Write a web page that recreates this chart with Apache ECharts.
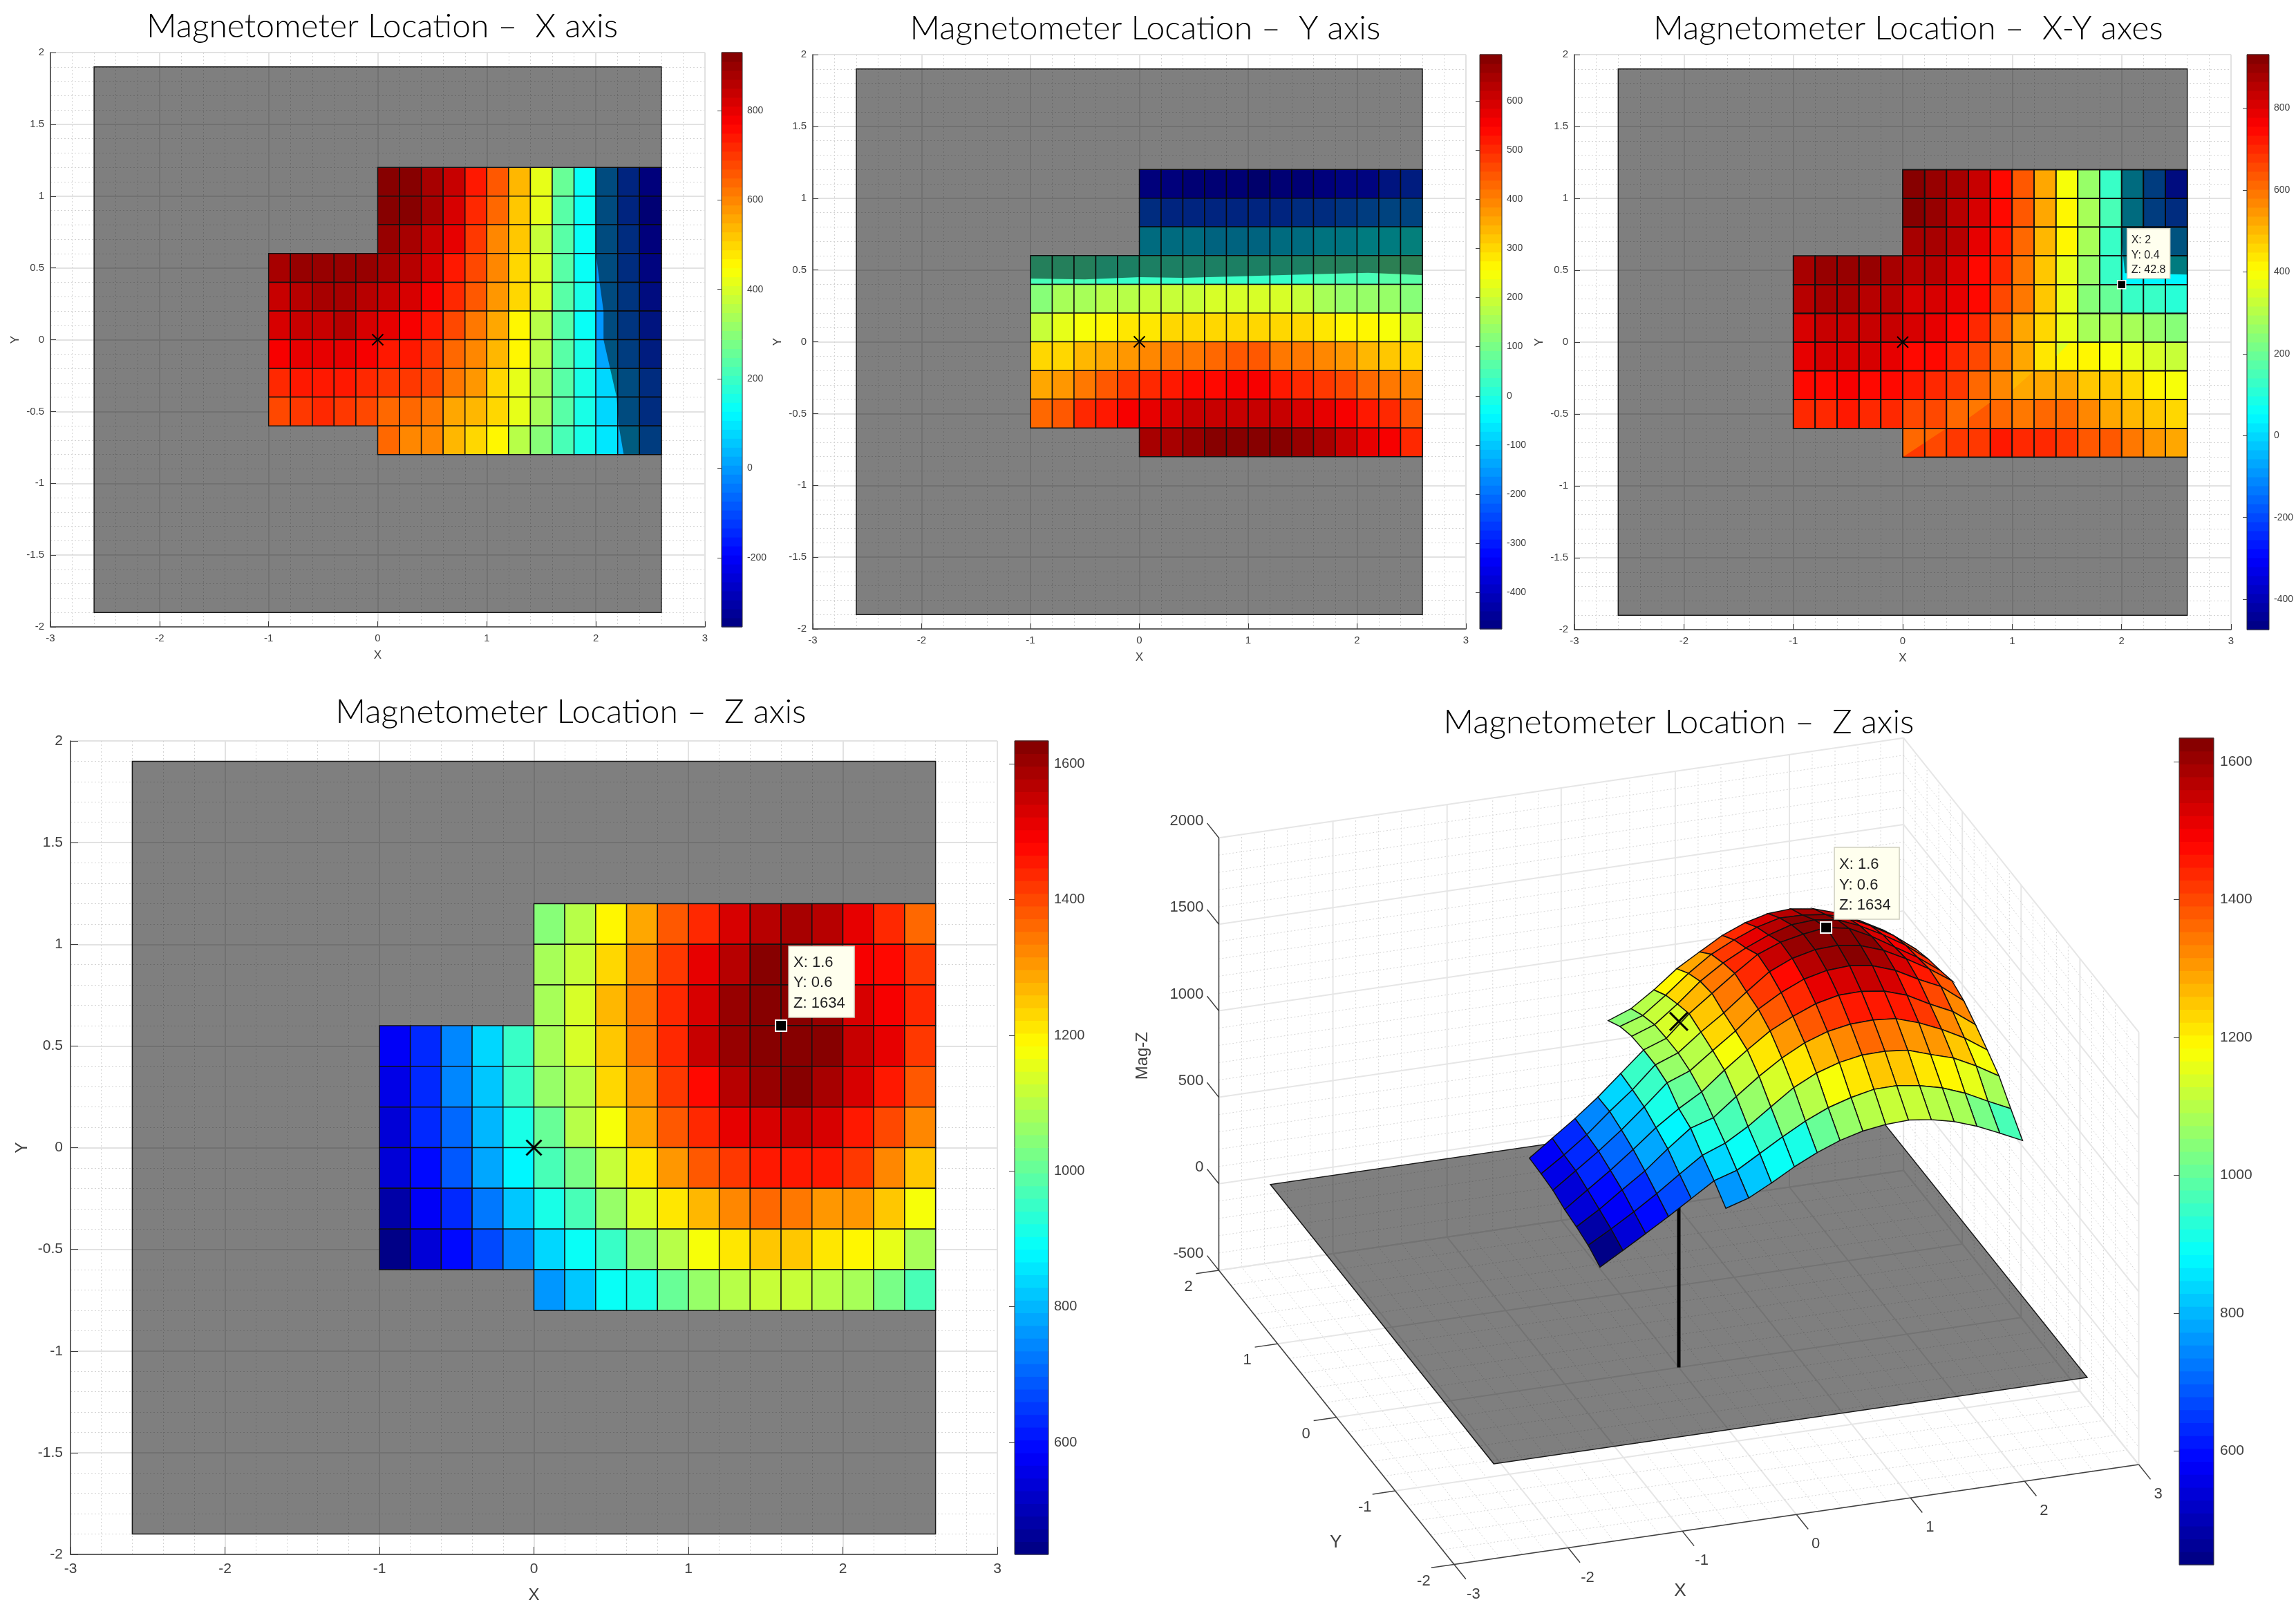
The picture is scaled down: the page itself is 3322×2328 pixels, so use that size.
<!DOCTYPE html>
<html><head><meta charset="utf-8"><style>html,body{margin:0;padding:0;background:#fff}#c{width:3322px;height:2328px}</style>
<script src="https://cdn.jsdelivr.net/npm/echarts@6/dist/echarts.min.js"></script></head><body><div id="c"></div>
<script>
const _ = null;
const columnX = [-1,-0.8,-0.6,-0.4,-0.2,0,0.2,0.4,0.6,0.8,1.0,1.2,1.4,1.6,1.8,2.0,2.2,2.4];
const rowY = [1.0,0.8,0.6,0.4,0.2,0,-0.2,-0.4,-0.6,-0.8];
const magX = [
[_,_,_,_,_,930,915,880,835,730,650,545,415,255,127,-10,-110,-210],
[_,_,_,_,_,910,925,880,815,725,640,520,415,245,127,-5,-100,-215],
[_,_,_,_,_,890,875,835,800,700,600,520,380,240,135,-5,-90,-195],
[880,895,890,905,900,875,855,810,745,675,590,500,395,245,140,-5,-85,-185],
[835,860,875,870,855,835,810,770,720,650,570,500,390,245,160,0,-70,-160],
[810,835,835,850,815,795,770,745,685,620,550,465,365,245,140,0,-60,-150],
[770,790,790,805,770,735,730,705,645,595,530,450,365,240,160,10,-40,-120],
[720,740,745,740,720,700,690,670,610,575,500,425,345,240,165,85,-10,-90],
[680,705,710,705,685,645,630,620,565,530,490,415,330,240,165,80,-5,-75],
[_,_,_,_,_,630,600,590,545,500,450,365,305,220,165,100,40,-40]];
const magY = [
[_,_,_,_,_,-335,-345,-350,-355,-360,-365,-360,-355,-345,-325,-310,-290,-270],
[_,_,_,_,_,-230,-245,-245,-245,-250,-250,-245,-235,-225,-205,-190,-175,-170],
[_,_,_,_,_,-75,-85,-90,-95,-95,-95,-90,-85,-70,-60,-45,-40,-35],
[55,45,40,35,30,30,25,20,20,20,25,30,35,45,55,55,60,70],
[115,150,150,165,180,195,200,200,205,205,210,205,185,160,140,140,130,120],
[195,220,240,256,275,285,295,300,305,305,305,300,295,285,270,256,240,210],
[295,310,340,355,370,390,405,420,435,440,440,420,405,390,370,345,320,305],
[350,375,415,440,475,495,515,530,540,548,548,525,510,490,465,430,410,385],
[430,455,495,525,550,575,595,610,615,620,615,605,590,575,550,520,495,450],
[_,_,_,_,_,655,645,660,680,690,694,685,665,640,610,575,548,505]];
const magXY = [
[_,_,_,_,_,931,905,885,830,740,645,535,404,270,140,5,-143,-270],
[_,_,_,_,_,915,905,860,805,735,625,515,410,280,145,0,-130,-170],
[_,_,_,_,_,885,880,850,790,715,610,510,410,280,130,-10,-60,-70],
[870,890,905,900,880,860,845,815,755,690,590,490,365,260,120,42.8,45,40],
[850,870,875,865,860,820,810,780,735,665,585,490,365,250,190,140,140,110],
[810,825,825,835,825,800,785,745,700,620,535,450,365,290,285,275,260,235],
[790,805,805,810,785,755,740,705,655,595,520,445,415,405,385,365,350,320],
[735,755,760,755,740,715,700,670,615,575,530,515,515,490,470,450,420,385],
[695,710,715,710,695,665,650,615,625,620,590,605,605,570,530,510,490,455],
[_,_,_,_,_,615,660,675,680,720,695,695,670,645,625,590,550,515]];
const magZ = [
[_,_,_,_,_,1040,1105,1195,1290,1380,1445,1540,1560,1590,1570,1505,1445,1370],
[_,_,_,_,_,1090,1125,1235,1330,1425,1515,1575,1620,1625,1565,1500,1475,1415],
[_,_,_,_,_,1080,1135,1260,1350,1440,1540,1600,1630,1634,1600,1535,1495,1435],
[570,640,745,830,950,1085,1140,1245,1345,1445,1545,1605,1630,1628,1620,1555,1505,1415],
[555,635,735,820,950,1070,1105,1225,1315,1425,1484,1560,1605,1620,1585,1540,1460,1390],
[545,625,710,800,915,1015,1095,1180,1280,1375,1440,1505,1530,1555,1530,1460,1400,1325],
[530,600,680,775,870,965,1020,1125,1215,1300,1380,1420,1450,1455,1455,1410,1330,1255],
[490,580,630,725,825,915,960,1060,1145,1210,1275,1330,1355,1345,1315,1300,1255,1184],
[450,530,590,675,745,830,885,950,1045,1105,1175,1215,1245,1245,1215,1200,1150,1090],
[_,_,_,_,_,770,810,885,920,1005,1065,1105,1125,1115,1105,1085,1025,965]];
// surface heights read from the 3-D view, nodes at nodeY (rows) and nodeX (columns)
const nodeX = [-1,-0.8,-0.6,-0.4,-0.2,0,0.2,0.4,0.6,0.8,1.0,1.2,1.4,1.6,1.8,2.0,2.2,2.4,2.6];
const nodeY = [1.2,1.0,0.8,0.6,0.4,0.2,0,-0.2,-0.4,-0.6,-0.8];
const surfaceZ = [
[_,_,_,_,_,995,1045,1134,1237,1315,1391,1445,1479,1487,1468,1426,1362,1290,1190],
[_,_,_,_,_,1046,1090,1188,1295,1386,1450,1504,1538,1536,1520,1480,1415,1340,1240],
[_,_,_,_,_,1074,1122,1222,1334,1421,1488,1544,1584,1593,1575,1520,1450,1370,1270],
[551,647,742,846,963,1080,1128,1251,1349,1446,1536,1587,1615,1634,1610,1544,1464,1385,1290],
[545,635,733,848,954,1079,1129,1230,1321,1424,1521,1579,1610,1616,1595,1549,1480,1403,1315],
[535,629,723,826,940,1060,1110,1208,1302,1409,1486,1544,1575,1583,1564,1518,1448,1386,1285],
[509,603,697,798,905,996,1073,1180,1277,1368,1433,1487,1517,1520,1502,1459,1389,1327,1231],
[494,575,669,759,868,968,1009,1112,1210,1296,1365,1411,1435,1440,1428,1385,1328,1259,1170],
[472,547,627,713,806,896,947,1024,1118,1210,1275,1317,1341,1344,1331,1287,1247,1182,1105],
[431,508,586,666,750,834,875,953,1030,1102,1160,1200,1228,1230,1211,1179,1129,1063,1001],
[_,_,_,_,_,760,800,868,942,1005,1056,1091,1110,1116,1099,1069,1023,964,902]];
const belowZeroX = [[2.0,1.2],[2.0,0.8],[2.0,0.6],[2.03,0.42],[2.07,0.2],[2.07,0],[2.13,-0.2],[2.19,-0.4],[2.21,-0.6],[2.255,-0.8],[2.6,-0.8],[2.6,1.2]];
const belowZeroY = [[-1,0.44],[-0.5,0.435],[0,0.45],[0.4,0.445],[1.1,0.46],[1.6,0.47],[2.1,0.48],[2.6,0.465],[2.6,1.2],[0,1.2],[0,0.6],[-1,0.6]];
const belowZeroXY = [[2.0,1.2],[2.0,0.7],[2.03,0.48],[2.6,0.47],[2.6,1.2]];
const foldValuesXY = [670,615,585,505,340];
const foldPolygonsXY = [
 [[0,-0.8],[0.2,-0.7],[0.2,-0.8]],
 [[0.2,-0.7],[0.4,-0.6],[0.2,-0.6]],
 [[0.6,-0.53],[0.8,-0.42],[0.8,-0.4],[0.6,-0.4]],
 [[1.0,-0.335],[1.2,-0.2],[1.0,-0.2]],
 [[1.4,-0.1],[1.53,0],[1.4,0]]];
const planeCorners = [[-2.6,-1.9],[2.6,-1.9],[2.6,1.9],[-2.6,1.9]];
const rangeX = [-355,930], rangeY = [-474,694], rangeXY = [-474,931], rangeZ = [435,1634];
const barTicksX = [-200,0,200,400,600,800];
const barTicksY = [-400,-300,-200,-100,0,100,200,300,400,500,600];
const barTicksXY = [-400,-200,0,200,400,600,800];
const barTicksZ = [600,800,1000,1200,1400,1600];
const ticks3dX = [-3,-2,-1,0,1,2,3], ticks3dY = [-2,-1,0,1,2], ticks3dZ = [-500,0,500,1000,1500,2000];
const cellStep = 0.2, barLevels = 64;
const FONT = '"Liberation Sans", Arial, sans-serif';
const TITLEFONT = 'Lato';

function jet(t){
  t = Math.max(0,Math.min(0.99999,t));
  t = (Math.floor(t*barLevels)+0.5)/barLevels;
  const f = c => Math.round(255*Math.max(0,Math.min(1,1.5-Math.abs(4*t-c))));
  return `rgb(${f(3)},${f(2)},${f(1)})`;
}
const grids=[],xAxes=[],yAxes=[],series=[],titles=[];
function addGrid(g,x,y){grids.push(g);x.gridIndex=y.gridIndex=grids.length-1;xAxes.push(x);yAxes.push(y);return grids.length-1;}
function draw(gi,fn,extra){series.push(Object.assign({type:'custom',xAxisIndex:gi,yAxisIndex:gi,clip:false,silent:true,animation:false,
  data:[[0,0]],encode:{x:0,y:1},renderItem:(p,api)=>fn(api)},extra||{}));}
function addTitle(text,x,y){titles.push({text,left:x,top:y,textAlign:'center',textVerticalAlign:'middle',
  textStyle:{fontFamily:TITLEFONT,fontWeight:300,fontSize:48,color:'#000'}});}
function poly(pts,api,style){return {type:'polygon',shape:{points:pts.map(p=>api.coord(p))},style};}
function xMark(c,s,w){return {type:'group',children:[
  {type:'line',shape:{x1:c[0]-s,y1:c[1]-s,x2:c[0]+s,y2:c[1]+s},style:{stroke:'#000',lineWidth:w}},
  {type:'line',shape:{x1:c[0]-s,y1:c[1]+s,x2:c[0]+s,y2:c[1]-s},style:{stroke:'#000',lineWidth:w}}]};}
function tip(c,t,lines){
  const kids=[{type:'rect',shape:{x:c[0]+t.dx,y:c[1]+t.dy,width:t.w,height:t.h},style:{fill:'#ffffee',stroke:'#d0d0c0',lineWidth:1.5}},
   {type:'rect',shape:{x:c[0]-t.mw/2,y:c[1]-t.mw/2,width:t.mw,height:t.mw},style:{fill:'#000',stroke:'#fff',lineWidth:t.ml}}];
  lines.forEach((s,i)=>kids.push({type:'text',x:c[0]+t.dx+t.tx,y:c[1]+t.dy+t.first+i*t.gap,
    style:{text:s,fill:'#222',font:`${t.fs}px ${FONT}`,align:'left',verticalAlign:'middle'}}));
  return {type:'group',children:kids};
}
function colorbar(box,range,ticks,fs,tick,margin){
  const gi=addGrid(Object.assign({},box),{type:'value',min:0,max:1,show:false},
   {type:'value',position:'right',min:range[0],max:range[1],
    axisLine:{show:false},splitLine:{show:false},
    axisTick:{show:true,inside:true,length:tick,customValues:ticks,lineStyle:{color:'#444',width:1}},
    axisLabel:{show:true,customValues:ticks,margin,fontFamily:FONT,fontSize:fs,color:'#404040',formatter:v=>String(v)}});
  const step=(range[1]-range[0])/barLevels, lv=[];
  for(let i=0;i<barLevels;i++) lv.push([0,range[0]+i*step]);
  series.push({type:'custom',xAxisIndex:gi,yAxisIndex:gi,clip:false,silent:true,animation:false,data:lv,encode:{x:0,y:1},
    renderItem:(p,api)=>{const v=api.value(1),a=api.coord([0,v]),b=api.coord([1,v+step]);
      return {type:'rect',shape:{x:a[0],y:b[1]-0.5,width:b[0]-a[0],height:a[1]-b[1]+1},style:{fill:jet((v+step/2-range[0])/(range[1]-range[0]))}};}});
  draw(gi,api=>{const a=api.coord([0,range[0]]),b=api.coord([1,range[1]]);
    return {type:'rect',shape:{x:a[0],y:b[1],width:b[0]-a[0],height:a[1]-b[1]},style:{fill:'none',stroke:'#333',lineWidth:1}};});
}
function panel(o){
  const axis=(min,max,interval,name,gap,rot)=>({type:'value',min,max,interval,minorTick:{show:false,splitNumber:5},name,nameLocation:'middle',nameGap:gap,nameRotate:rot,
    nameTextStyle:{fontFamily:FONT,fontSize:o.nameFs,color:'#404040'},
    axisLine:{show:true,onZero:false,lineStyle:{color:'#3a3a3a',width:1.5}},
    axisTick:{show:true,inside:true,length:o.tick,lineStyle:{color:'#3a3a3a',width:1}},
    axisLabel:{fontFamily:FONT,fontSize:o.fs,color:'#404040',margin:o.margin},
    splitLine:{show:true,showMinLine:true,showMaxLine:true,lineStyle:{color:'#e2e2e2',width:2}},
    minorSplitLine:{show:true,lineStyle:{color:'#d4d4d4',width:1,type:[2,3]}}});
  const gi=addGrid(o.box,Object.assign(axis(-3,3,1,'X',o.xGap,0),{position:'bottom'}),Object.assign(axis(-2,2,0.5,'Y',o.yGap,90),{position:'left'}));
  draw(gi,api=>poly(planeCorners,api,{fill:'rgba(0,0,0,0.5)',stroke:'#1a1a1a',lineWidth:1.5}));
  const cells=[];
  o.data.forEach((row,r)=>row.forEach((v,c)=>{if(v!==null)cells.push([columnX[c],rowY[r],v]);}));
  const color=v=>jet((v-o.range[0])/(o.range[1]-o.range[0]));
  series.push({type:'custom',xAxisIndex:gi,yAxisIndex:gi,clip:false,silent:true,animation:false,data:cells,encode:{x:0,y:1},
    renderItem:(p,api)=>{const x=api.value(0),y=api.value(1),v=api.value(2),a=api.coord([x,y]),b=api.coord([x+cellStep,y+cellStep]);
      return {type:'rect',shape:{x:a[0],y:b[1],width:b[0]-a[0],height:a[1]-b[1]},style:{fill:color(v),stroke:'#111',lineWidth:o.cellLw}};}});
  if(o.folds){
    draw(gi,api=>({type:'group',children:o.folds.map((f,i)=>poly(f,api,{fill:color(o.foldValues[i])}))}));
    series.push({type:'custom',xAxisIndex:gi,yAxisIndex:gi,clip:false,silent:true,animation:false,data:cells,encode:{x:0,y:1},
      renderItem:(p,api)=>{const x=api.value(0),y=api.value(1),a=api.coord([x,y]),b=api.coord([x+cellStep,y+cellStep]);
        return {type:'rect',shape:{x:a[0],y:b[1],width:b[0]-a[0],height:a[1]-b[1]},style:{fill:'none',stroke:'#111',lineWidth:o.cellLw}};}});
  }
  if(o.below) draw(gi,api=>poly(o.below,api,{fill:'rgba(0,0,0,0.5)'}));
  draw(gi,api=>xMark(api.coord([0,0]),o.xs,o.xw));
  if(o.tip) draw(gi,api=>tip(api.coord(o.tip.p),o.tip,o.tip.lines));
  colorbar(o.bar,o.range,o.barTicks,o.barFs,o.barTick,o.barMargin);
}
addTitle('Magnetometer Location –  X axis',548,34);
addTitle('Magnetometer Location –  Y axis',1652,37);
addTitle('Magnetometer Location –  X-Y axes',2756,37);
addTitle('Magnetometer Location –  Z axis',821,1026);
addTitle('Magnetometer Location –  Z axis',2424,1041);
const small={fs:15,nameFs:17,tick:8,margin:9,xGap:33,yGap:42,xs:8,xw:2,cellLw:1.5,barFs:14,barTick:6,barMargin:7};
panel(Object.assign({},small,{box:{left:73,top:76,width:947,height:831},data:magX,range:rangeX,below:belowZeroX,
  bar:{left:1044,top:76,width:30,height:831},barTicks:barTicksX}));
panel(Object.assign({},small,{box:{left:1176,top:79,width:945,height:831},data:magY,range:rangeY,below:belowZeroY,
  bar:{left:2141,top:79,width:32,height:831},barTicks:barTicksY}));
panel(Object.assign({},small,{box:{left:2278,top:79,width:950,height:832},data:magXY,range:rangeXY,below:belowZeroXY,
  folds:foldPolygonsXY,foldValues:foldValuesXY,
  bar:{left:3251,top:79,width:32,height:832},barTicks:barTicksXY,
  tip:{p:[2,0.4],lines:['X: 2','Y: 0.4','Z: 42.8'],dx:8,dy:-81,w:62,h:72,tx:6,first:17,gap:21.5,fs:16,mw:12,ml:1.5}}));
panel({box:{left:102,top:1072,width:1341,height:1177},fs:21,nameFs:24,tick:11,margin:11,xGap:47,yGap:58,xs:11,xw:3,cellLw:1.5,
  data:magZ,range:rangeZ,bar:{left:1468,top:1072,width:49,height:1177},barTicks:barTicksZ,barFs:20,barTick:8,barMargin:8,
  tip:{p:[1.6,0.6],lines:['X: 1.6','Y: 0.6','Z: 1634'],dx:11,dy:-115,w:95,h:103,tx:7,first:23.5,gap:29.5,fs:22,mw:16,ml:2}});

// ---- 3-D panel: orthographic view, hidden value axes carry the projected plane
const view={ox:729,oy:321.5,xu:165.1,yu:-85.1,xv:24.07,yv:106.4,zv:0.2503};
const proj=(x,y,z)=>[view.ox+view.xu*x+view.yu*y, view.oy+view.xv*x+view.yv*y+view.zv*(z+500)];
const g3=addGrid({left:1700,top:1060,width:1440,height:1240},{type:'value',min:0,max:1440,show:false},{type:'value',min:0,max:1240,show:false});
const seg=(api,a,b,style)=>{const p=api.coord(proj(a[0],a[1],a[2])),q=api.coord(proj(b[0],b[1],b[2]));
  return {type:'line',shape:{x1:p[0],y1:p[1],x2:q[0],y2:q[1]},style};};
function range(a,b,s){const r=[];const n=Math.round((b-a)/s);for(let i=0;i<=n;i++)r.push(a+i*s);return r;}
draw(g3,api=>{
  const minor={stroke:'#d6d6d6',lineWidth:1,lineDash:[2,3]},major={stroke:'#e6e6e6',lineWidth:2},kids=[];
  const isIn=(v,list)=>list.some(t=>Math.abs(t-v)<1e-6);
  const both=(vals,ticks,f)=>vals.forEach(v=>{if(!isIn(v,ticks))f(v,minor);});
  const add=(vals,ticks,f)=>{both(vals,ticks,f);ticks.forEach(v=>f(v,major));};
  const l=(a,b,s)=>kids.push(seg(api,a,b,s));
  add(range(-3,3,0.2),ticks3dX,(x,s)=>{l([x,-2,-500],[x,2,-500],s);l([x,2,-500],[x,2,2000],s);});
  add(range(-2,2,0.2),ticks3dY,(y,s)=>{l([-3,y,-500],[3,y,-500],s);l([3,y,-500],[3,y,2000],s);});
  add(range(-500,2000,100),ticks3dZ,(z,s)=>{l([-3,2,z],[3,2,z],s);l([3,2,z],[3,-2,z],s);});
  const ax={stroke:'#404040',lineWidth:1.5};
  l([-3,2,-500],[-3,2,2000],ax);l([-3,-2,-500],[3,-2,-500],ax);l([-3,-2,-500],[-3,2,-500],ax);
  ticks3dZ.forEach(z=>l([-3,2,z],[-3,2.2,z],ax));
  ticks3dX.forEach(x=>l([x,-2,-500],[x,-2.2,-500],ax));
  ticks3dY.forEach(y=>l([-3,y,-500],[-3.2,y,-500],ax));
  const txt=(c,dx,dy,text,fs,align,rot)=>kids.push({type:'text',x:c[0]+dx,y:c[1]+dy,rotation:rot||0,
    style:{text:String(text),fill:'#404040',font:`${fs}px ${FONT}`,align,verticalAlign:'middle'}});
  const at=(x,y,z)=>api.coord(proj(x,y,z));
  ticks3dZ.forEach(z=>txt(at(-3,2,z),-22,-24,z,22,'right'));
  ticks3dX.forEach(x=>txt(at(x,-2,-500),28,43,x,22,'center'));
  ticks3dY.forEach(y=>txt(at(-3,y,-500),-44,24,y,22,'center'));
  txt(at(-1.39,-2.72,-500),0,0,'X',26,'center');
  txt(at(-3.79,-1.52,-500),0,0,'Y',26,'center');
  txt(at(-3.67,2,804),0,0,'Mag-Z',24,'center',Math.PI/2);
  return {type:'group',children:kids};
});
draw(g3,api=>({type:'polygon',shape:{points:planeCorners.map(p=>api.coord(proj(p[0],p[1],0)))},style:{fill:'rgba(0,0,0,0.5)',stroke:'#1a1a1a',lineWidth:1.5}}));
draw(g3,api=>seg(api,[0,0,-500],[0,0,1500],{stroke:'#000',lineWidth:5}));
const surfaceCells=[];
magZ.forEach((row,r)=>row.forEach((v,c)=>{if(v!==null)surfaceCells.push([c,r,v]);}));
surfaceCells.sort((a,b)=>{const d=(o)=>view.xv*columnX[o[0]]+view.yv*rowY[o[1]];return d(b)-d(a);});
series.push({type:'custom',xAxisIndex:g3,yAxisIndex:g3,clip:false,silent:true,animation:false,data:surfaceCells,encode:{x:0,y:1},
  renderItem:(p,api)=>{const c=api.value(0),r=api.value(1),v=api.value(2);
    const corners=[[c,r+1],[c+1,r+1],[c+1,r],[c,r]].map(k=>api.coord(proj(nodeX[k[0]],nodeY[k[1]],surfaceZ[k[1]][k[0]])));
    return {type:'polygon',z2:p.dataIndex,shape:{points:corners},style:{fill:jet((v-rangeZ[0])/(rangeZ[1]-rangeZ[0])),stroke:'#111',lineWidth:1.5}};}});
draw(g3,api=>xMark(api.coord(proj(0,0,1500)),13,3),{z:5});
draw(g3,api=>tip(api.coord(proj(1.6,0.6,1634)),{dx:12,dy:-116,w:94,h:104,tx:7,first:25,gap:29.5,fs:22,mw:16,ml:2},['X: 1.6','Y: 0.6','Z: 1634']),{z:5});
colorbar({left:3153,top:1068,width:50,height:1196},rangeZ,barTicksZ,21,8,9);

const chart=echarts.init(document.getElementById('c'),null,{renderer:'canvas'});
chart.setOption({animation:false,backgroundColor:'#fff',title:titles,grid:grids,xAxis:xAxes,yAxis:yAxes,series});
</script></body></html>
